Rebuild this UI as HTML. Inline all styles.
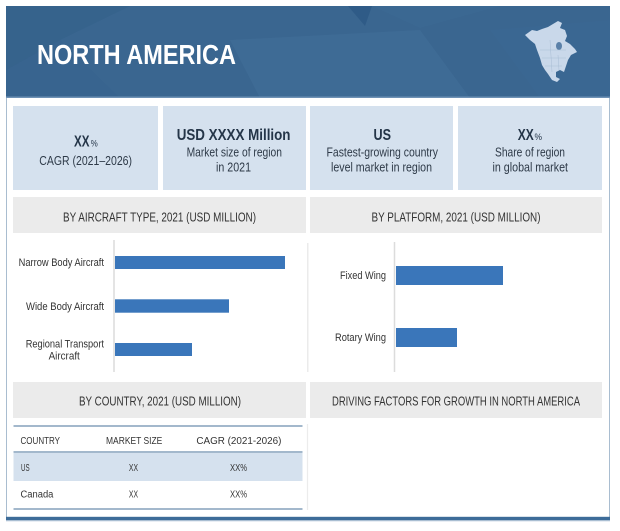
<!DOCTYPE html>
<html><head><meta charset="utf-8"><style>
html,body{margin:0;padding:0;background:#fff;}
svg{display:block;}
text{font-family:"Liberation Sans",Arial,sans-serif;}
</style></head><body>
<svg width="620" height="531" viewBox="0 0 620 531" xmlns="http://www.w3.org/2000/svg">
<rect x="0" y="0" width="620" height="531" fill="#fff"/>
<!-- outer frame -->
<rect x="6.5" y="6.5" width="603" height="511" fill="#fff" stroke="#a9bdd0" stroke-width="1"/>
<!-- header -->
<rect x="6" y="6" width="604" height="92" fill="#3a6690"/>
<polygon points="6,6 130,6 60,40 6,70" fill="#33608b" opacity="0.6"/>
<polygon points="6,70 60,40 120,98 6,98" fill="#35628d" opacity="0.5"/>
<polygon points="230,40 420,30 470,98 260,98" fill="#44719c" opacity="0.45"/>
<polygon points="348,6 372,6 365,26" fill="#2f5b87"/>
<polygon points="372,6 500,6 420,28" fill="#3f6b96" opacity="0.4"/>
<polygon points="490,30 610,20 610,98 540,98" fill="#3d6a95" opacity="0.4"/>
<rect x="6" y="96.5" width="604" height="1.5" fill="#6f92b5"/>
<text x="37" y="64" font-size="28" font-weight="bold" fill="#fff" textLength="199" lengthAdjust="spacingAndGlyphs">NORTH AMERICA</text>
<!-- map -->
<path d="M525,35 L532,30 L537,31 L542,29 L548,27 L553,24 L558,21 L562,23 L560,28 L565,30 L567,36 L565,41 L570,44 L575,49 L577,52 L571,55 L568,60 L566,66 L564,72 L560,70 L556,72 L556,77 L560,79 L557,82 L552,80 L548,74 L545,70 L542,65 L540,58 L537,50 L535,44 L530,40 Z" fill="#c9d8ea"/>
<ellipse cx="559" cy="46" rx="3" ry="4" fill="#5a80a8"/>
<path d="M540,50 L566,50 M542,58 L566,58 M545,66 L562,66 M550,40 L552,72 M558,55 L559,70" stroke="#a9bed5" stroke-width="0.5" fill="none"/>
<!-- stat boxes -->
<rect x="13" y="106" width="145" height="84" fill="#d5e1ee"/>
<rect x="163" y="106" width="143" height="84" fill="#d5e1ee"/>
<rect x="310" y="106" width="143" height="84" fill="#d5e1ee"/>
<rect x="458" y="106" width="144" height="84" fill="#d5e1ee"/>
<text x="74" y="146.7" font-size="15.5" font-weight="bold" fill="#243548" textLength="15.5" lengthAdjust="spacingAndGlyphs">XX</text>
<text x="90.7" y="146.7" font-size="9" fill="#243548" textLength="7" lengthAdjust="spacingAndGlyphs">%</text>
<text x="39.3" y="165" font-size="13" fill="#2e3a48" textLength="92.7" lengthAdjust="spacingAndGlyphs">CAGR (2021–2026)</text>
<text x="176.7" y="140" font-size="16" font-weight="bold" fill="#243548" textLength="113.8" lengthAdjust="spacingAndGlyphs">USD XXXX Million</text>
<text x="186.6" y="156.3" font-size="13" fill="#2e3a48" textLength="95.4" lengthAdjust="spacingAndGlyphs">Market size of region</text>
<text x="216" y="171.3" font-size="13" fill="#2e3a48" textLength="35" lengthAdjust="spacingAndGlyphs">in 2021</text>
<text x="373.5" y="140" font-size="16" font-weight="bold" fill="#243548" textLength="17.5" lengthAdjust="spacingAndGlyphs">US</text>
<text x="326.5" y="156.3" font-size="13" fill="#2e3a48" textLength="111.5" lengthAdjust="spacingAndGlyphs">Fastest-growing country</text>
<text x="331" y="171.3" font-size="13" fill="#2e3a48" textLength="101" lengthAdjust="spacingAndGlyphs">level market in region</text>
<text x="517.8" y="140" font-size="15.5" font-weight="bold" fill="#243548" textLength="16" lengthAdjust="spacingAndGlyphs">XX</text>
<text x="534.5" y="140" font-size="9" fill="#243548" textLength="7.5" lengthAdjust="spacingAndGlyphs">%</text>
<text x="495" y="156.3" font-size="13" fill="#2e3a48" textLength="70" lengthAdjust="spacingAndGlyphs">Share of region</text>
<text x="492.5" y="171.3" font-size="13" fill="#2e3a48" textLength="75.5" lengthAdjust="spacingAndGlyphs">in global market</text>
<!-- section headers -->
<rect x="13" y="197" width="293" height="36" fill="#ebebeb"/>
<rect x="310" y="197" width="292" height="36" fill="#ebebeb"/>
<text x="63" y="221.3" font-size="13" fill="#333" textLength="193" lengthAdjust="spacingAndGlyphs">BY AIRCRAFT TYPE, 2021 (USD MILLION)</text>
<text x="371.5" y="221.3" font-size="13" fill="#333" textLength="169" lengthAdjust="spacingAndGlyphs">BY PLATFORM, 2021 (USD MILLION)</text>
<rect x="13" y="382" width="293" height="36" fill="#ebebeb"/>
<rect x="310" y="382" width="292" height="36" fill="#ebebeb"/>
<text x="79" y="405.6" font-size="13" fill="#333" textLength="162" lengthAdjust="spacingAndGlyphs">BY COUNTRY, 2021 (USD MILLION)</text>
<text x="332" y="405.6" font-size="13" fill="#333" textLength="248" lengthAdjust="spacingAndGlyphs">DRIVING FACTORS FOR GROWTH IN NORTH AMERICA</text>
<!-- chart 1 -->
<line x1="114" y1="240" x2="114" y2="372" stroke="#dcdcdc" stroke-width="1.5"/>
<line x1="307.8" y1="243" x2="307.8" y2="372" stroke="#e6e6e6" stroke-width="1.2"/>
<rect x="115" y="256" width="170" height="13" fill="#3a76ba"/>
<rect x="115" y="299.3" width="114" height="13.4" fill="#3a76ba"/>
<rect x="115" y="343" width="77" height="13" fill="#3a76ba"/>
<text x="18.6" y="266.2" font-size="11" fill="#333" textLength="85.4" lengthAdjust="spacingAndGlyphs">Narrow Body Aircraft</text>
<text x="26" y="310" font-size="11" fill="#333" textLength="78" lengthAdjust="spacingAndGlyphs">Wide Body Aircraft</text>
<text x="25.7" y="347.5" font-size="11" fill="#333" textLength="78.3" lengthAdjust="spacingAndGlyphs">Regional Transport</text>
<text x="48.6" y="359.6" font-size="11" fill="#333" textLength="31.2" lengthAdjust="spacingAndGlyphs">Aircraft</text>
<!-- chart 2 -->
<line x1="394.5" y1="242" x2="394.5" y2="372" stroke="#dcdcdc" stroke-width="1.5"/>
<rect x="396" y="266" width="107" height="19" fill="#3a76ba"/>
<rect x="396" y="328" width="61" height="19" fill="#3a76ba"/>
<text x="340" y="279" font-size="11" fill="#333" textLength="46" lengthAdjust="spacingAndGlyphs">Fixed Wing</text>
<text x="335" y="341" font-size="11" fill="#333" textLength="51" lengthAdjust="spacingAndGlyphs">Rotary Wing</text>
<!-- table -->
<line x1="307.5" y1="424" x2="307.5" y2="510" stroke="#ececec" stroke-width="1.2"/>
<rect x="13.5" y="452" width="289" height="29" fill="#d5e1ee"/>
<line x1="13.5" y1="426" x2="302.5" y2="426" stroke="#a3b8cc" stroke-width="2"/>
<line x1="13.5" y1="452" x2="302.5" y2="452" stroke="#a3b8cc" stroke-width="2"/>
<line x1="13.5" y1="509" x2="302.5" y2="509" stroke="#a3b8cc" stroke-width="2"/>
<text x="20.5" y="444" font-size="10" fill="#333" textLength="39.5" lengthAdjust="spacingAndGlyphs">COUNTRY</text>
<text x="106" y="444" font-size="10" fill="#333" textLength="56.3" lengthAdjust="spacingAndGlyphs">MARKET SIZE</text>
<text x="196.4" y="444" font-size="10" fill="#333" textLength="85" lengthAdjust="spacingAndGlyphs">CAGR (2021-2026)</text>
<text x="21" y="471" font-size="10" fill="#333" textLength="8.6" lengthAdjust="spacingAndGlyphs">US</text>
<text x="128.9" y="471" font-size="10" fill="#333" textLength="9.1" lengthAdjust="spacingAndGlyphs">XX</text>
<text x="230" y="471" font-size="10" fill="#333" textLength="17" lengthAdjust="spacingAndGlyphs">XX%</text>
<text x="20.5" y="497.5" font-size="10" fill="#333" textLength="32.9" lengthAdjust="spacingAndGlyphs">Canada</text>
<text x="128.9" y="497.5" font-size="10" fill="#333" textLength="9.1" lengthAdjust="spacingAndGlyphs">XX</text>
<text x="230" y="497.5" font-size="10" fill="#333" textLength="17" lengthAdjust="spacingAndGlyphs">XX%</text>
<!-- bottom border -->
<rect x="6" y="516.8" width="604" height="3.5" fill="#3d6c99"/>
<rect x="6" y="520.3" width="604" height="1" fill="#b7c8d9"/>
</svg>
</body></html>
